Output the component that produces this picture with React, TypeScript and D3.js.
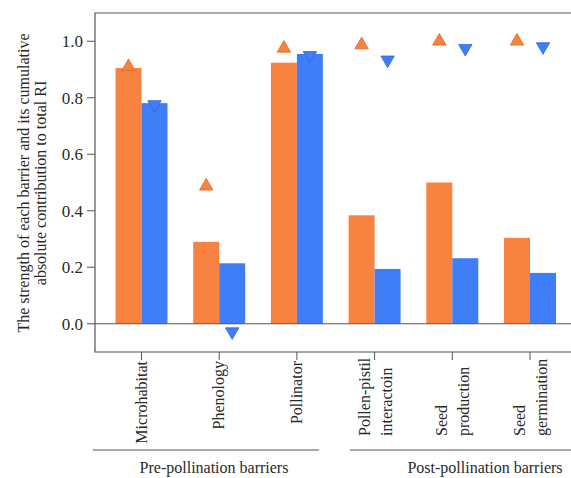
import React from "react";
import * as d3 from "d3";

const categories = ["Microhabitat", "Phenology", "Pollinator", "Pollen-pistil interactoin", "Seed production", "Seed germination"];
const labelLines = [["Microhabitat"], ["Phenology"], ["Pollinator"], ["Pollen-pistil", "interactoin"], ["Seed", "production"], ["Seed", "germination"]];
const strengthValues = [0.905, 0.29, 0.924, 0.384, 0.5, 0.304];
const contributionValues = [0.781, 0.214, 0.955, 0.194, 0.232, 0.18];
const upMarkerValues = [0.91, 0.487, 0.975, 0.987, 1.0, 1.0];
const downMarkerValues = [0.776, -0.028, 0.95, 0.934, 0.975, 0.981];
const yTicks = [0.0, 0.2, 0.4, 0.6, 0.8, 1.0];
const groups = [
  { label: "Pre-pollination barriers", x0: 92.7, x1: 319, cx: 214 },
  { label: "Post-pollination barriers", x0: 350, x1: 575, cx: 485 },
];

const ORANGE = "#F8823F";
const BLUE = "#3F7EF7";
const AXIS = "#555";
const TEXT = "#2a2a2a";
const FONT = "Liberation Serif, DejaVu Serif, serif";

export default function App() {
  const left = 95, top = 13, right = 575, bottom = 352;
  const y = d3.scaleLinear().domain([-0.1, 1.1]).range([bottom, top]);
  const x = d3.scaleBand().domain(categories).range([102.65, 568.85]).padding(0);
  const sub = d3.scaleBand().domain(["s", "c"]).range([-26, 26]).padding(0);
  const bw = sub.bandwidth();
  const upTri = d3.symbol(d3.symbolTriangle, 78)()!;
  const center = (c: string) => (x(c) as number) + x.bandwidth() / 2;

  return (
    <svg width={571} height={478} fontFamily={FONT} style={{ display: "block", position: "absolute", left: 0, top: 0 }}>
      <path d={`M${right},${top}H${left}V${bottom}H${right}`} fill="none" stroke={AXIS} strokeWidth={1.2} />
      {categories.map((c, i) => (
        <g key={c}>
          <rect x={center(c) + (sub("s") as number)} y={y(strengthValues[i])} width={bw} height={y(0) - y(strengthValues[i])} fill={ORANGE} />
          <rect x={center(c) + (sub("c") as number)} y={y(contributionValues[i])} width={bw} height={y(0) - y(contributionValues[i])} fill={BLUE} />
        </g>
      ))}
      <line x1={left} x2={right} y1={y(0)} y2={y(0)} stroke={AXIS} strokeWidth={1.2} />
      {categories.map((c, i) => (
        <g key={"m" + c}>
          <path d={upTri} transform={`translate(${center(c) + (sub("s") as number) + bw / 2},${y(upMarkerValues[i])})`} fill={ORANGE} stroke="#E0671F" strokeWidth={0.8} />
          <path d={upTri} transform={`translate(${center(c) + (sub("c") as number) + bw / 2},${y(downMarkerValues[i])}) rotate(180)`} fill={BLUE} stroke="#2F68D8" strokeWidth={0.8} />
        </g>
      ))}
      {yTicks.map((t) => (
        <g key={t}>
          <line x1={left - 8} x2={left} y1={y(t)} y2={y(t)} stroke={AXIS} strokeWidth={1} />
          <text x={left - 12} y={y(t)} dy="0.35em" textAnchor="end" fontFamily={FONT} fontSize={17} fill={TEXT}>{d3.format(".1f")(t)}</text>
        </g>
      ))}
      <text transform="translate(29,183) rotate(-90)" textAnchor="middle" fontFamily={FONT} fontSize={16} fill={TEXT}>The strength of each barrier and its cumulative</text>
      <text transform="translate(46,183) rotate(-90)" textAnchor="middle" fontFamily={FONT} fontSize={16} fill={TEXT}>absolute contribution to total RI</text>
      {categories.map((c, i) => {
        const cx = center(c);
        const lines = labelLines[i];
        return (
          <g key={"x" + c}>
            <line x1={cx} x2={cx} y1={bottom} y2={bottom + 8} stroke={AXIS} strokeWidth={1} />
            {lines.length === 1 ? (
              <text transform={`translate(${cx + 5},${bottom + 9}) rotate(-90)`} textAnchor="end" fontFamily={FONT} fontSize={16} fill={TEXT}>{lines[0]}</text>
            ) : (
              lines.map((l, k) => (
                <text key={l} transform={`translate(${cx - 5 + k * 22},436) rotate(-90)`} textAnchor="start" fontFamily={FONT} fontSize={16} fill={TEXT}>{l}</text>
              ))
            )}
          </g>
        );
      })}
      {groups.map((g) => (
        <g key={g.label}>
          <line x1={g.x0} x2={g.x1} y1={450} y2={450} stroke={AXIS} strokeWidth={1} />
          <text x={g.cx} y={473} textAnchor="middle" fontFamily={FONT} fontSize={16} fill={TEXT}>{g.label}</text>
        </g>
      ))}
    </svg>
  );
}
